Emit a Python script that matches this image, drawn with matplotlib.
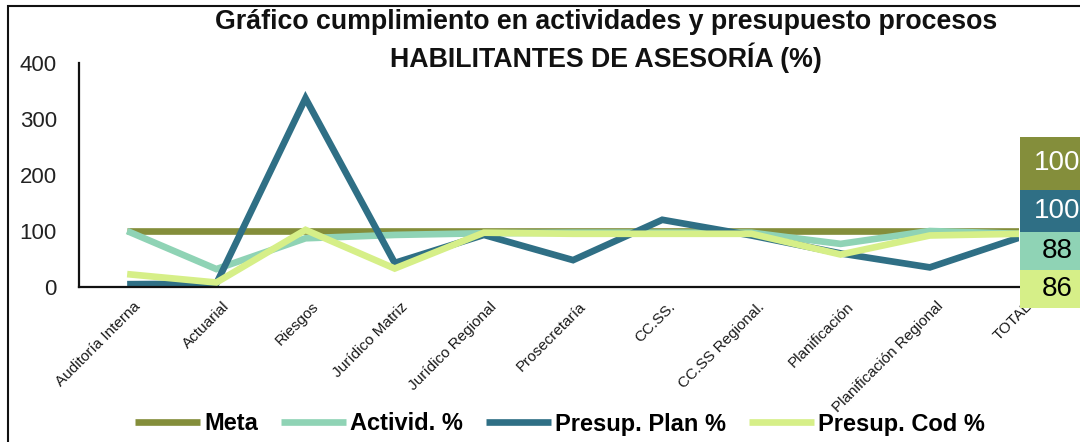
import matplotlib
matplotlib.use("Agg")
import matplotlib.pyplot as plt
from matplotlib.patches import Rectangle
from matplotlib.transforms import ScaledTranslation

plt.rcParams["font.family"] = ["Liberation Sans", "DejaVu Sans"]

# categories (x axis)
categories = [
    "Auditoría Interna", "Actuarial", "Riesgos", "Jurídico Matriz",
    "Jurídico Regional", "Prosecretaría", "CC.SS.", "CC.SS Regional.",
    "Planificación", "Planificación Regional", "TOTAL",
]

# series values (%)
meta = [100, 100, 100, 100, 100, 100, 100, 100, 100, 100, 100]
actividad = [100, 32, 87, 93, 96, 97, 97, 97, 77, 100, 95]
presup_plan = [5, 6, 337, 43, 93, 48, 120, 92, 60, 35, 88]
presup_cod = [23, 8, 102, 33, 97, 95, 95, 95, 58, 92, 95]

series_names = ["Meta", "Activid. %", "Presup. Plan %", "Presup. Cod %"]
series_colors = ["#848e3b", "#8fd3b5", "#2f6f85", "#d6ef88"]

# values printed in the boxes at the right (Meta, Plan, Activid., Cod)
total_labels = ["100", "100", "88", "86"]
box_colors = ["#848e3b", "#2f6f85", "#8fd3b5", "#d6ef88"]
box_text_colors = ["white", "white", "black", "black"]

W, H = 1080, 442
fig = plt.figure(figsize=(W / 100, H / 100), dpi=100)

ax = fig.add_axes([79 / W, 1 - 287 / H, (1019 - 79) / W, (287 - 63) / H])

x = list(range(len(categories)))
all_series = [meta, actividad, presup_plan, presup_cod]
handles = []
for vals, name, col in zip(all_series, series_names, series_colors):
    (ln,) = ax.plot(x, vals, color=col, lw=4.8, label=name,
                    solid_joinstyle="miter", solid_capstyle="butt")
    handles.append(ln)

ax.set_xlim(-0.54, 10)
ax.set_ylim(0, 400)
ax.set_yticks([0, 100, 200, 300, 400])
ax.tick_params(axis="y", length=0, pad=16, labelsize=16, labelcolor="#222222")
ax.tick_params(axis="x", length=0, pad=9)
ax.set_xticks(x)
ax.set_xticklabels(categories, rotation=45, ha="right",
                   rotation_mode="anchor", fontsize=11, color="#1a1a1a")
# shift the rotated labels a little to the right, like the original
offset = ScaledTranslation(0.06, 0, fig.dpi_scale_trans)
for lab in ax.get_xticklabels():
    lab.set_transform(lab.get_transform() + offset)

for side in ["top", "right"]:
    ax.spines[side].set_visible(False)
for side in ["left", "bottom"]:
    ax.spines[side].set_linewidth(1.6)
    ax.spines[side].set_color("#111111")

# title
fig.text(606 / W, 1 - 22 / H,
         "Gráfico cumplimiento en actividades y presupuesto procesos",
         ha="center", va="center", fontsize=19.3, fontweight="bold", color="#111111")
fig.text(606 / W, 1 - 58 / H, "HABILITANTES DE ASESORÍA (%)",
         ha="center", va="center", fontsize=19.3, fontweight="bold", color="#111111")

# coloured value boxes on the right
edges = [137, 190, 232, 270, 308]
for i, (lab, col, tcol) in enumerate(zip(total_labels, box_colors, box_text_colors)):
    y0 = 1 - edges[i + 1] / H
    y1 = 1 - edges[i] / H
    fig.add_artist(Rectangle((1020 / W, y0), 80 / W, y1 - y0,
                             transform=fig.transFigure, color=col, lw=0))
    fig.text(1057 / W, (y0 + y1) / 2, lab, ha="center", va="center",
             fontsize=20, color=tcol)

# outer frame
fig.add_artist(Rectangle((8 / W, -0.1), 1.2, 1 - 6 / H + 0.1,
                         transform=fig.transFigure, fill=False,
                         edgecolor="#111111", lw=1.5))

fig.legend(handles=handles, loc="center", bbox_to_anchor=(560 / W, 1 - 424 / H),
           ncol=4, frameon=False, prop={"weight": "bold", "size": 17},
           handlelength=2.75, handletextpad=0.2, columnspacing=0.95)

fig.savefig("out.png", dpi=100)
